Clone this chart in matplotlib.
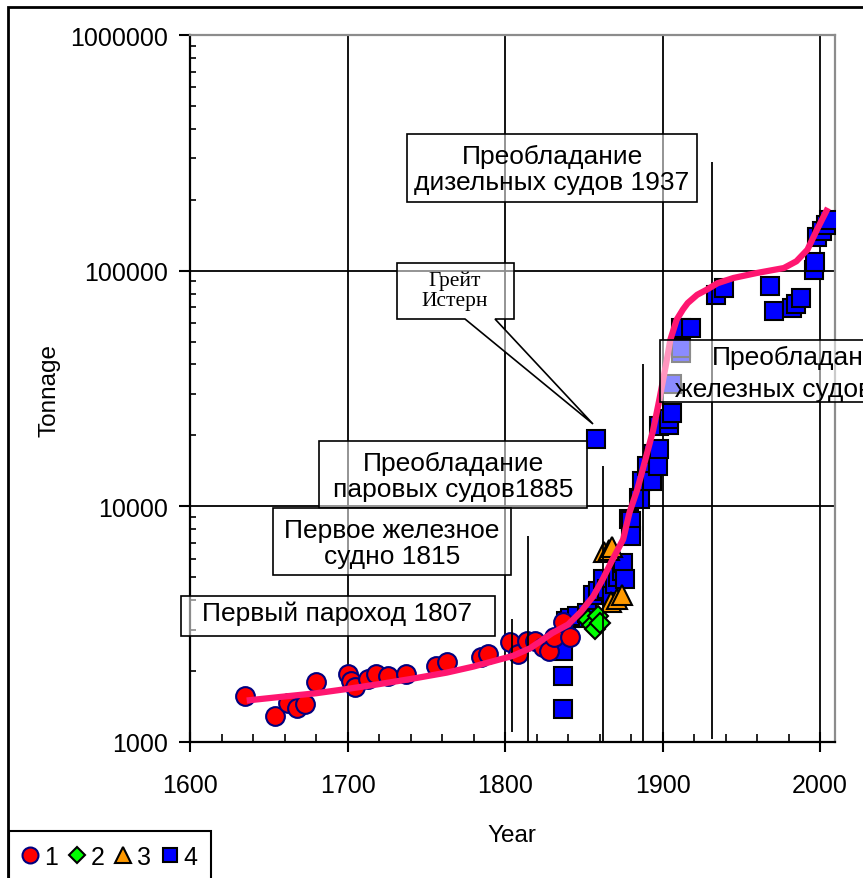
import matplotlib
matplotlib.use('Agg')
import matplotlib.pyplot as plt
from matplotlib.ticker import FixedLocator, MultipleLocator, LogLocator, NullFormatter, FuncFormatter
from matplotlib.patches import Rectangle, Polygon

plt.rcParams['font.family'] = ['Liberation Sans', 'DejaVu Sans']

# ---------------- data ----------------
s1_years = [1635, 1654, 1662, 1668, 1673, 1680, 1700, 1702, 1705, 1713, 1718, 1726, 1737,
            1756, 1763, 1785, 1789, 1803, 1808, 1814, 1819, 1824, 1828, 1831, 1837, 1841]
s1_tons = [1570, 1290, 1470, 1400, 1450, 1790, 1940, 1820, 1710, 1850, 1940, 1910, 1940,
           2100, 2180, 2290, 2360, 2650, 2360, 2690, 2690, 2520, 2440, 2780, 3220, 2780]

s2_years = [1853, 1855, 1857, 1859, 1860]
s2_tons = [3300, 3140, 3020, 3420, 3190]

s3_years = [1863, 1866, 1868, 1867, 1871, 1874]
s3_tons = [6380, 6520, 6700, 3920, 4040, 4200]

s4_years = [1837, 1837, 1837, 1839, 1841, 1846, 1852, 1853, 1856, 1858, 1859, 1862, 1865,
            1868, 1870, 1872, 1874, 1875, 1876, 1879, 1880, 1880, 1885, 1886, 1887, 1890,
            1893, 1894, 1897, 1898, 1898, 1904, 1904, 1906, 1906, 1912, 1912, 1912, 1918,
            1934, 1939, 1968, 1971, 1982, 1985, 1988, 1996, 1997, 1998, 2001, 2004, 2006]
s4_tons = [2440, 1910, 1380, 3260, 3375, 3420, 3540, 3375, 4200, 19400, 4365, 4900, 4450,
           4170, 4670, 5000, 5320, 5770, 4900, 8800, 8670, 7480, 10900, 10700, 12800, 14800,
           12800, 16600, 14800, 17450, 21900, 22200, 23400, 24900, 32900, 44800, 47000, 57100,
           57100, 79000, 84500, 85700, 67300, 69500, 72000, 76600, 101000, 109000, 139600,
           147000, 156600, 164500]

curve_years = [1636, 1660, 1680, 1700, 1720, 1740, 1763, 1780, 1805, 1816, 1830, 1840, 1848,
               1856, 1862, 1868, 1875, 1879, 1884, 1888, 1894, 1898, 1902, 1905, 1909, 1913,
               1916, 1922, 1928, 1935, 1945, 1960, 1977, 1985, 1992, 1998, 2005]
curve_tons = [1500, 1560, 1610, 1680, 1760, 1850, 1970, 2090, 2320, 2500, 2900, 3150, 3560,
              4150, 4900, 5900, 7240, 9400, 11800, 14800, 21000, 28400, 39300, 51000, 62000,
              68500, 72900, 79000, 83000, 88500, 93100, 97800, 102600, 109600, 122700, 149000,
              184500]

event_years = [1804.5, 1814.5, 1862, 1887.5, 1931.5]
event_low = [1100, 1000, 1000, 1000, 1030]
event_high = [3320, 7460, 14760, 40000, 290000]

x_major = [1600, 1700, 1800, 1900, 2000]
x_grid = [1700, 1800, 1900, 2000]
y_grid = [1e4, 1e5]
legend_labels = ['1', '2', '3', '4']

# ---------------- figure ----------------
W, H = 863, 879
fig = plt.figure(figsize=(W / 100, H / 100), dpi=100)


def fx(px):
    return px / W


def fy(py):
    return 1 - py / H


ax = fig.add_axes([fx(190), fy(743), fx(835) - fx(190), fy(36) - fy(743)])
ax.set_yscale('log')
ax.set_xlim(1600, 2009.5)
ax.set_ylim(1000, 1e6)

for xv in x_grid:
    ax.axvline(xv, color='black', lw=1.3, zorder=1)
for yv in y_grid:
    ax.axhline(yv, color='black', lw=1.3, zorder=1)

h4, = ax.plot(s4_years, s4_tons, 's', ms=12.5, mfc='#0000FF', mec='black', mew=1.5, zorder=3)
h3, = ax.plot(s3_years, s3_tons, '^', ms=14, mfc='#FF9900', mec='black', mew=1.5, zorder=3)
h2, = ax.plot(s2_years, s2_tons, 'D', ms=10, mfc='#00FF00', mec='black', mew=1.5, zorder=3)
h1, = ax.plot(s1_years, s1_tons, 'o', ms=13.5, mfc='#FF0000', mec='#000080', mew=1.5, zorder=3.5)

ax.vlines(event_years, event_low, event_high, color='black', lw=1.3, zorder=4)

ax.plot(curve_years, curve_tons, '-', color='#FF1670', lw=4.5, zorder=5,
        solid_capstyle='butt', solid_joinstyle='round')

# spines
for s in ['left', 'bottom']:
    ax.spines[s].set_color('black')
    ax.spines[s].set_linewidth(1.6)
for s in ['top', 'right']:
    ax.spines[s].set_color('#8c8c8c')
    ax.spines[s].set_linewidth(1.6)

ax.xaxis.set_major_locator(FixedLocator(x_major))
ax.xaxis.set_minor_locator(MultipleLocator(20))
ax.yaxis.set_major_locator(LogLocator(base=10))
ax.yaxis.set_minor_locator(LogLocator(base=10, subs=[2, 3, 4, 5, 6, 7, 8, 9]))
ax.yaxis.set_minor_formatter(NullFormatter())
ax.yaxis.set_major_formatter(FuncFormatter(lambda v, _: f"{int(round(v))}"))
ax.tick_params(axis='x', which='major', direction='inout', length=14, width=1.5, pad=15,
               labelsize=18)
ax.tick_params(axis='x', which='minor', direction='in', length=6, width=1.2)
ax.tick_params(axis='y', which='major', direction='out', length=8, width=1.5, pad=8,
               labelsize=18)
ax.tick_params(axis='y', which='minor', direction='in', length=4, width=1.2)

ax.set_xlabel('Year', fontsize=17.5)
ax.xaxis.set_label_coords(0.499, -0.116)
ax.set_ylabel('Tonnage', fontsize=17.5)
ax.yaxis.set_label_coords(-0.201, 0.499)

# ---------------- annotation boxes ----------------
box_face = (1, 1, 1, 0.55)


def fig_rect(x0, y0, x1, y1):
    r = Rectangle((fx(x0), fy(y1)), fx(x1) - fx(x0), fy(y0) - fy(y1),
                  transform=fig.transFigure, facecolor=box_face, edgecolor='black',
                  lw=1.2, zorder=10)
    fig.add_artist(r)


def fig_txt(x, y, s, **kw):
    kw.setdefault('fontsize', 19)
    kw.setdefault('ha', 'center')
    kw.setdefault('va', 'center')
    fig.text(fx(x), fy(y), s, zorder=11, linespacing=1.1, **kw)


# diesel
fig_rect(407, 135, 697, 203)
fig_txt(552, 170, 'Преобладание\nдизельных судов 1937')

# Great Eastern callout
pts = [(397, 264), (514, 264), (514, 320), (495, 320), (593, 425), (465, 320), (397, 320)]
poly = Polygon([(fx(a), fy(b)) for a, b in pts], closed=True, transform=fig.transFigure,
               facecolor=box_face, edgecolor='black', lw=1.2, zorder=10)
fig.add_artist(poly)
fig_txt(455, 291, 'Грейт\nИстерн', fontsize=15.5, family=['Liberation Serif', 'DejaVu Serif'])

# iron ships (box runs off the right edge of the picture, as in the original)
fig_rect(660, 341, 880, 403)
fig_txt(712, 358, 'Преобладание', ha='left')
fig_txt(675, 390, 'железных судов', ha='left')

# steam
fig_rect(319, 442, 587, 509)
fig_txt(453, 477, 'Преобладание\nпаровых судов1885')

# first iron ship
fig_rect(273, 509, 511, 576)
fig_txt(392, 544, 'Первое железное\nсудно 1815')

# first steamer
fig_rect(181, 597, 495, 637)
fig_txt(337, 614, 'Первый пароход 1807')

# outer chart border
fig.add_artist(Rectangle((fx(8), fy(H + 20)), fx(W + 20), fy(8) - fy(H + 20),
                         transform=fig.transFigure, fill=False, edgecolor='black',
                         lw=2, zorder=12, clip_on=False))

# legend
leg = fig.legend([h1, h2, h3, h4], legend_labels, ncol=4, loc='upper left',
                 bbox_to_anchor=(fx(9), fy(832)), frameon=True, fancybox=False,
                 edgecolor='black', framealpha=1, handlelength=0.6, handletextpad=0.25,
                 columnspacing=0.45, borderpad=0.55, markerscale=0.85, fontsize=18,
                 borderaxespad=0)
leg.get_frame().set_linewidth(1.5)
leg.set_zorder(13)

fig.savefig('out.png', dpi=100)
